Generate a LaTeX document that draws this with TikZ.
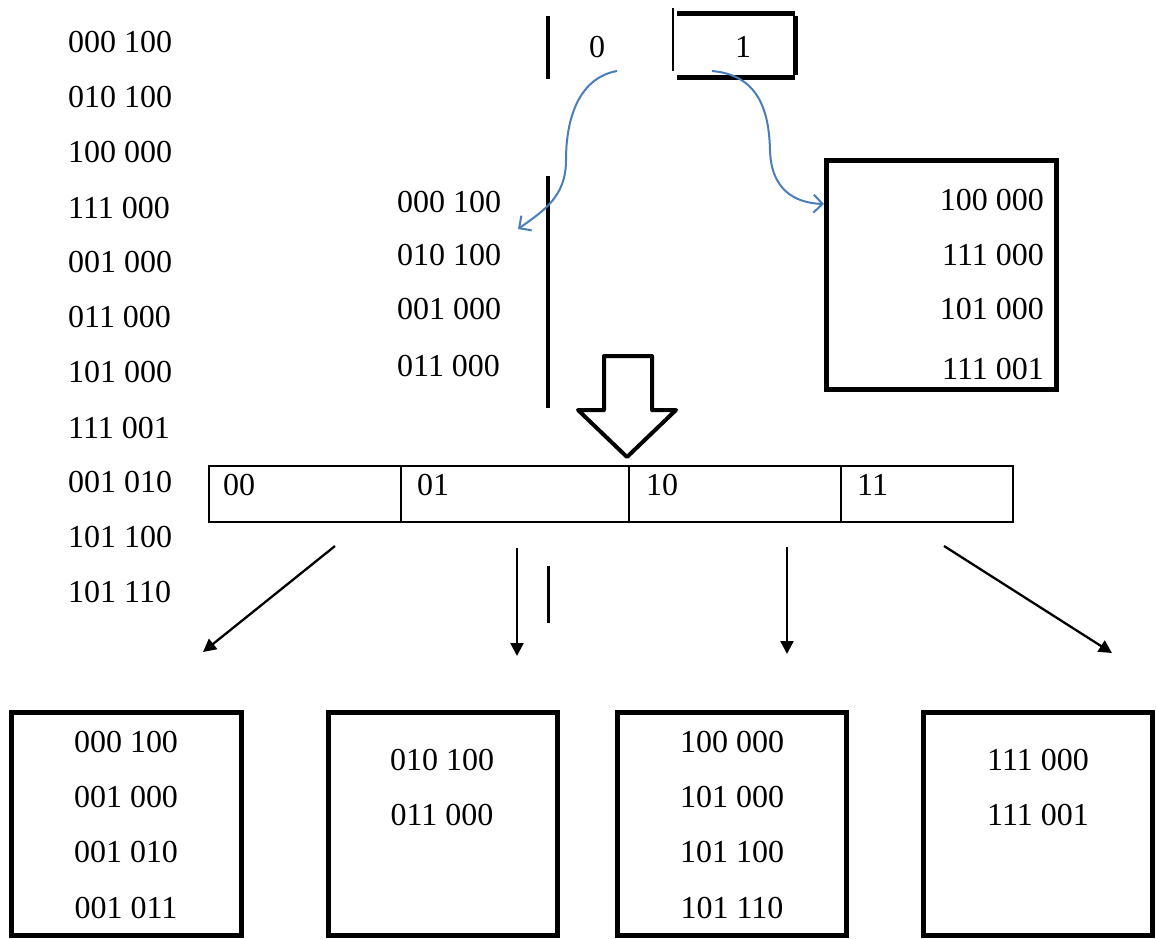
\documentclass[tikz,border=0pt]{standalone}
\usepackage{fontspec}
\setmainfont{Liberation Serif}
\usetikzlibrary{arrows.meta}
\definecolor{curveblue}{RGB}{74,126,187}
\begin{document}
\begin{tikzpicture}[x=1pt,y=-1pt,
  txt/.style={font=\fontsize{32}{36}\selectfont, inner sep=0pt},
  thickbox/.style={draw, line width=5pt, inner sep=0pt},
  cell/.style={draw, line width=2pt, inner sep=0pt, minimum height=56pt},
  bar/.style={line width=4.5pt},
  thinbar/.style={line width=1.5pt},
  bluecurve/.style={draw=curveblue, line width=2pt, -{Straight Barb[length=9pt,width=18pt,line width=2pt]}},
  ptr/.style={line width=2.3pt, -{Triangle[length=13pt,width=13pt]}},
  blockarrow/.style={draw, line width=4pt, line join=round},
]
\useasboundingbox (0,0) rectangle (1157,938);

% left column of keys
\foreach \t/\yy [count=\i] in {000 100/42, 010 100/97, 100 000/152, 111 000/208, 001 000/262, 011 000/317, 101 000/372, 111 001/428, 001 010/482, 101 100/537, 101 110/592}
  \node[txt, anchor=west] (L\i) at (68,\yy) {\t};

% top: 0 | 1
\coordinate (zb1) at (548,16);
\coordinate (zb2) at (548,79);
\draw[bar] (zb1) -- (zb2);
\node[txt] (zero) at (597,47) {0};
\node[txt] (one) at (743,47) {1};
\coordinate (o1) at (673,8);
\coordinate (o2) at (673,71);
\draw[thinbar] (o1) -- (o2);
\coordinate (otl) at (677,13);
\coordinate (otr) at (795,13);
\coordinate (obr) at (795,77);
\coordinate (obl) at (677,77);
\draw[line width=5pt] (otl) -- (otr);
\draw[line width=5pt] (obl) -- (obr);
\draw[line width=5pt] ([yshift=-2.5pt]otr) -- ([yshift=2.5pt]obr);

% middle-left list
\node[txt, anchor=west] (m1) at (397,202) {000 100};
\node[txt, anchor=west] (m2) at (397,255) {010 100};
\node[txt, anchor=west] (m3) at (397,309) {001 000};
\node[txt, anchor=west] (m4) at (397,366) {011 000};
\coordinate (mb1) at (548,176);
\coordinate (mb2) at (548,408);
\draw[bar] (mb1) -- (mb2);

% right box
\node[thickbox, minimum width=230pt, minimum height=229pt] (rb) at (941,274.5) {};
\node[txt, anchor=east] (r1) at (1044,200) {100 000};
\node[txt, anchor=east] (r2) at (1044,255) {111 000};
\node[txt, anchor=east] (r3) at (1044,309) {101 000};
\node[txt, anchor=east] (r4) at (1044,369) {111 001};

% blue curves
\coordinate (c0) at (617,71);
\coordinate (c1) at (712,71);
\coordinate (m1end) at (518,229);
\coordinate (rbend) at (824,204);
\draw[bluecurve] (c0) .. controls (578,78) and (566,120) .. (566,160)
  .. controls (566,196) and (545,210) .. (m1end);
\draw[bluecurve] (c1) .. controls (758,75) and (769,110) .. (770,150)
  .. controls (771,190) and (795,203) .. (rbend);

% block arrow
\draw[blockarrow] (604,356) -- (652,356) -- (652,410) -- (676,410) -- (627,457)
  -- (578,410) -- (604,410) -- cycle;

% directory
\node[cell, minimum width=192pt] (d00) at (305,494) {};
\node[cell, minimum width=228pt] (d01) at (515,494) {};
\node[cell, minimum width=212pt] (d10) at (735,494) {};
\node[cell, minimum width=172pt] (d11) at (927,494) {};
\node[txt, anchor=base west] (l00) at (223,495) {00};
\node[txt, anchor=base west] (l01) at (417,495) {01};
\node[txt, anchor=base west] (l10) at (646,495) {10};
\node[txt, anchor=base west] (l11) at (857,495) {11};

% pointers
\coordinate (p1s) at (335,546);
\coordinate (p1e) at (203,652);
\coordinate (p2s) at (517,548);
\coordinate (p2e) at (517,656);
\coordinate (p3s) at (787,547);
\coordinate (p3e) at (787,654);
\coordinate (p4s) at (944,546);
\coordinate (p4e) at (1112,653);
\draw[ptr] (p1s) -- (p1e);
\draw[ptr] (p2s) -- (p2e);
\draw[ptr] (p3s) -- (p3e);
\draw[ptr] (p4s) -- (p4e);
\coordinate (sb1) at (548,566);
\coordinate (sb2) at (548,623);
\draw[line width=3pt] (sb1) -- (sb2);

% bottom buckets
\node[thickbox, minimum width=230pt, minimum height=223pt] (b1) at (126,823.5) {};
\node[thickbox, minimum width=229pt, minimum height=223pt] (b2) at (442.5,823.5) {};
\node[thickbox, minimum width=229pt, minimum height=223pt] (b3) at (731.5,823.5) {};
\node[thickbox, minimum width=229pt, minimum height=223pt] (b4) at (1037.5,823.5) {};

\node[txt] (b1a) at (126,742) {000 100};
\node[txt] (b1b) at (126,797) {001 000};
\node[txt] (b1c) at (126,852) {001 010};
\node[txt] (b1d) at (126,908) {001 011};

\node[txt] (b2a) at (442,760) {010 100};
\node[txt] (b2b) at (442,815) {011 000};

\node[txt] (b3a) at (732,742) {100 000};
\node[txt] (b3b) at (732,797) {101 000};
\node[txt] (b3c) at (732,852) {101 100};
\node[txt] (b3d) at (732,908) {101 110};

\node[txt] (b4a) at (1038,760) {111 000};
\node[txt] (b4b) at (1038,815) {111 001};
\end{tikzpicture}
\end{document}
